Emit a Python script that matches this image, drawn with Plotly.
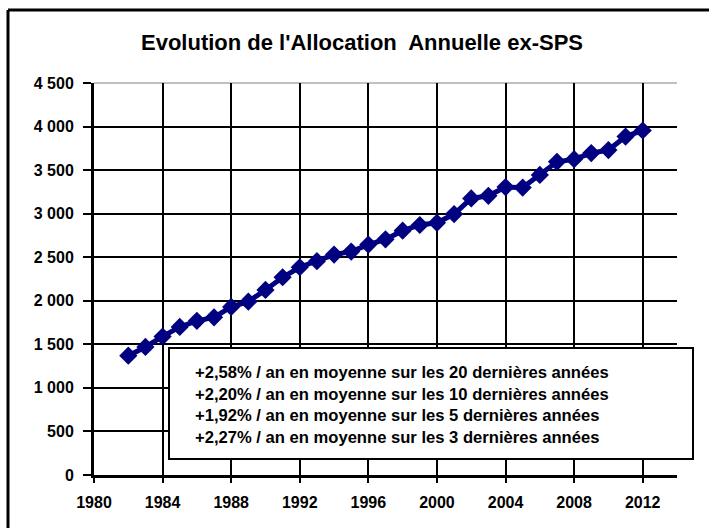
import plotly.graph_objects as go

years = list(range(1982, 2013))
allocation = [1370, 1470, 1590, 1700, 1770, 1810, 1930, 1990, 2125, 2270, 2385,
              2455, 2530, 2565, 2645, 2705, 2805, 2870, 2895, 2995, 3175, 3205,
              3305, 3300, 3445, 3595, 3625, 3695, 3730, 3885, 3955]

y_tickvals = [0, 500, 1000, 1500, 2000, 2500, 3000, 3500, 4000, 4500]
y_ticktext = ["0", "500", "1 000", "1 500", "2 000", "2 500", "3 000", "3 500", "4 000", "4 500"]
x_tickvals = [1980, 1984, 1988, 1992, 1996, 2000, 2004, 2008, 2012]

title_text = "Evolution de l'Allocation  Annuelle ex-SPS"
box_lines = [
    "+2,58% / an en moyenne sur les 20 dernières années",
    "+2,20% / an en moyenne sur les 10 dernières années",
    "+1,92% / an en moyenne sur les 5 dernières années",
    "+2,27% / an en moyenne sur les 3 dernières années",
]

FONT = "Arial, 'Liberation Sans', sans-serif"
W, H = 709, 528
L, R, T, B = 94, 32, 83, 53
PW, PH = W - L - R, H - T - B

def px(xp):
    return (xp - L) / PW

def py(yp):
    return (H - B - yp) / PH

fig = go.Figure()
fig.add_trace(go.Scatter(
    x=years, y=allocation, mode="lines+markers",
    line=dict(color="#000080", width=5),
    marker=dict(symbol="diamond", size=14, color="#000080"),
    showlegend=False, hoverinfo="skip",
))

fig.update_layout(
    width=W, height=H,
    margin=dict(l=L, r=R, t=T, b=B),
    paper_bgcolor="white", plot_bgcolor="white",
    font=dict(family=FONT, color="black", size=16, weight="bold"),
    title=dict(text=title_text, x=px(362), xref="paper", xanchor="center",
               y=1 - 42 / H, yanchor="middle",
               font=dict(family=FONT, size=22, weight="bold", color="black")),
    xaxis=dict(range=[1980, 2014], tickvals=x_tickvals, showgrid=True,
               gridcolor="black", gridwidth=2, showline=True, linecolor="black",
               linewidth=3, ticks="outside", ticklen=5, tickwidth=2, tickcolor="black",
               zeroline=False, tickfont=dict(size=16, weight="bold"),
               ticklabelstandoff=6),
    yaxis=dict(range=[0, 4500], tickvals=y_tickvals, ticktext=y_ticktext,
               showgrid=True, gridcolor="black", gridwidth=2, showline=True,
               linecolor="black", linewidth=3, ticks="outside", ticklen=8,
               tickwidth=2, tickcolor="black", zeroline=False,
               tickfont=dict(size=16, weight="bold"), ticklabelstandoff=6),
    shapes=[
        # light top border of plot area
        dict(type="line", xref="paper", yref="paper", x0=0, x1=1, y0=1, y1=1,
             line=dict(color="#c0c0c0", width=2), layer="below"),
        # blank right margin strip
        dict(type="rect", xref="paper", yref="paper",
             x0=px(695), x1=px(715), y0=py(535), y1=py(-5),
             line=dict(width=0), fillcolor="white", layer="above"),
        # outer frame (left and top edges visible)
        dict(type="line", xref="paper", yref="paper",
             x0=px(8), x1=px(8), y0=py(528), y1=py(10),
             line=dict(color="black", width=3)),
        dict(type="line", xref="paper", yref="paper",
             x0=px(8), x1=px(709), y0=py(10), y1=py(10),
             line=dict(color="black", width=3)),
        # text box
        dict(type="rect", xref="paper", yref="paper",
             x0=px(169), x1=px(693), y0=py(459), y1=py(348),
             line=dict(color="black", width=2), fillcolor="white", layer="above"),
    ],
    annotations=[
        dict(text="<br>".join(box_lines), xref="paper", yref="paper",
             x=px(193), y=py(404.5), xanchor="left", yanchor="middle",
             align="left", showarrow=False,
             font=dict(family=FONT, size=16.6, weight="bold", color="black")),
    ],
)

fig.write_html(
    "out.html",
    config={"displayModeBar": False},
    post_script=("document.documentElement.style.overflow='hidden';"
                 "document.body.style.margin='0';document.body.style.overflow='hidden';"),
)
